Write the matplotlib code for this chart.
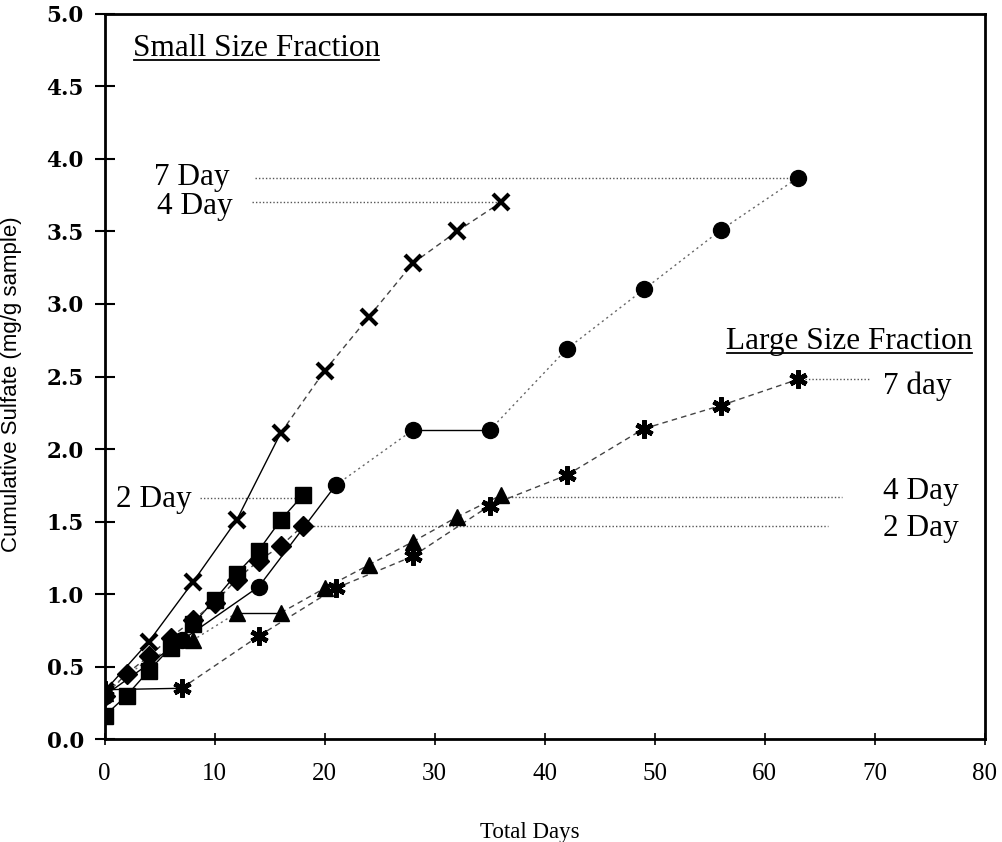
import matplotlib
matplotlib.use("Agg")
import matplotlib.pyplot as plt
from matplotlib import font_manager
from matplotlib.lines import Line2D

# ---- data -------------------------------------------------------------
days_2 = [0, 2, 4, 6, 8, 10, 12, 14, 16, 18]
days_4 = [0, 4, 8, 12, 16, 20, 24, 28, 32, 36]
days_7 = [0, 7, 14, 21, 28, 35, 42, 49, 56, 63]

small_2day = [0.16, 0.30, 0.47, 0.63, 0.79, 0.96, 1.14, 1.30, 1.51, 1.68]
small_4day = [0.33, 0.67, 1.08, 1.51, 2.11, 2.54, 2.91, 3.28, 3.50, 3.70]
small_7day = [0.30, 0.68, 1.05, 1.75, 2.13, 2.13, 2.69, 3.10, 3.51, 3.87]

large_2day = [0.30, 0.45, 0.57, 0.70, 0.82, 0.94, 1.10, 1.23, 1.33, 1.47]
large_4day = [0.32, 0.55, 0.68, 0.87, 0.87, 1.04, 1.20, 1.36, 1.53, 1.68]
large_7day = [0.34, 0.35, 0.71, 1.04, 1.26, 1.61, 1.82, 2.14, 2.30, 2.48]

x_ticks = [0, 10, 20, 30, 40, 50, 60, 70, 80]
y_ticks = [0.0, 0.5, 1.0, 1.5, 2.0, 2.5, 3.0, 3.5, 4.0, 4.5, 5.0]

# ---- fonts ------------------------------------------------------------
available = {f.name for f in font_manager.fontManager.ttflist}
serif = "Liberation Serif" if "Liberation Serif" in available else "DejaVu Serif"
narrow = next((n for n in ["Liberation Sans Narrow", "Liberation Sans", "DejaVu Sans"]
               if n in available), "DejaVu Sans")

fig = plt.figure(figsize=(10.03, 8.42), dpi=100)
ax = fig.add_axes([0.1043, 0.1223, 0.8777, 0.8611])
ax.set_xlim(0, 80)
ax.set_ylim(0, 5.0)

SOLID = dict(color="black", lw=1.0, ls="-")
DOT = dict(color="#666666", lw=1.0, ls=(0, (1.5, 2.5)))
DASH = dict(color="#444444", lw=1.0, ls=(0, (4, 3)))


def draw_series(x, y, seg_styles, **marker_kw):
    # connect consecutive points with per-segment line styles
    for i in range(len(x) - 1):
        ax.plot(x[i:i + 2], y[i:i + 2], zorder=2, **seg_styles[i])
    ax.plot(x, y, ls="none", zorder=3, **marker_kw)


# Small size fraction
draw_series(days_2, small_2day, [SOLID] * 9,
            marker="s", ms=11, color="black", mec="black")
draw_series(days_4, small_4day, [SOLID] * 4 + [DASH] * 5,
            marker="x", ms=11, mew=3, color="black")
draw_series(days_7, small_7day, [SOLID] * 3 + [DOT, SOLID] + [DOT] * 4,
            marker="o", ms=11.5, color="black", mec="black")

# Large size fraction
draw_series(days_2, large_2day, [DASH] * 9,
            marker="D", ms=10, color="black", mec="black")
draw_series(days_4, large_4day, [DOT] * 3 + [SOLID] + [DASH] * 5,
            marker="^", ms=11.5, color="black", mec="black")
draw_series(days_7, large_7day, [SOLID] + [DASH] * 8,
            marker=(6, 2, 0), ms=13, mew=3.4, color="black")

# leader lines to the series labels
LEAD = dict(color="#555555", lw=1.0, ls=(0, (1, 1.5)), zorder=1)
ax.plot([13.7, days_7[-1]], [small_7day[-1]] * 2, **LEAD)
ax.plot([13.4, days_4[-1]], [small_4day[-1]] * 2, **LEAD)
ax.plot([8.7, days_2[-1]], [small_2day[-1] - 0.02] * 2, **LEAD)
ax.plot([days_7[-1], 69.5], [large_7day[-1]] * 2, **LEAD)
ax.plot([days_4[-1], 67.0], [large_4day[-1] - 0.01] * 2, **LEAD)
ax.plot([days_2[-1], 65.7], [large_2day[-1]] * 2, **LEAD)

LBL = dict(family=serif, fontsize=22.5, color="black")
ax.text(4.5, 3.87, "7 Day", ha="left", va="center", **LBL)
ax.text(4.8, 3.67, "4 Day", ha="left", va="center", **LBL)
ax.text(1.0, 1.65, "2 Day", ha="left", va="center", **LBL)
ax.text(70.7, 2.43, "7 day", ha="left", va="center", **LBL)
ax.text(70.7, 1.71, "4 Day", ha="left", va="center", **LBL)
ax.text(70.7, 1.45, "2 Day", ha="left", va="center", **LBL)

t_small = ax.text(2.6, 4.76, "Small Size Fraction", ha="left", va="center", **LBL)
t_large = ax.text(78.9, 2.74, "Large Size Fraction", ha="right", va="center", **LBL)

# axes styling
for s in ax.spines.values():
    s.set_linewidth(2.0)
ax.set_xticks(x_ticks)
ax.set_yticks(y_ticks)
ax.set_xticklabels([str(v) for v in x_ticks], family=serif, fontsize=18)
ax.set_yticklabels([f"{v:.1f}" for v in y_ticks], family="DejaVu Serif",
                   fontsize=15.5, fontweight="bold")
ax.tick_params(axis="y", direction="inout", length=14, width=1.5, pad=8)
ax.tick_params(axis="x", direction="inout", length=9, width=1.2, pad=13)

ax.set_xlabel("Total Days", family=serif, fontsize=16.5)
ax.xaxis.set_label_coords(0.483, -0.114)
ax.set_ylabel("Cumulative Sulfate (mg/g sample)", family=narrow, fontsize=16)
ax.yaxis.set_label_coords(-0.094, 0.49)

# underline the two section headings
fig.canvas.draw()
renderer = fig.canvas.get_renderer()
inv = fig.transFigure.inverted()
for t in (t_small, t_large):
    bb = t.get_window_extent(renderer)
    (x0, y0), (x1, y1) = inv.transform([(bb.x0, bb.y0), (bb.x1, bb.y1)])
    yl = y0 + (y1 - y0) * 0.12
    fig.add_artist(Line2D([x0 + 0.001, x1 - 0.001], [yl, yl],
                          color="black", lw=1.3, transform=fig.transFigure))

fig.savefig("out.png", dpi=100)
